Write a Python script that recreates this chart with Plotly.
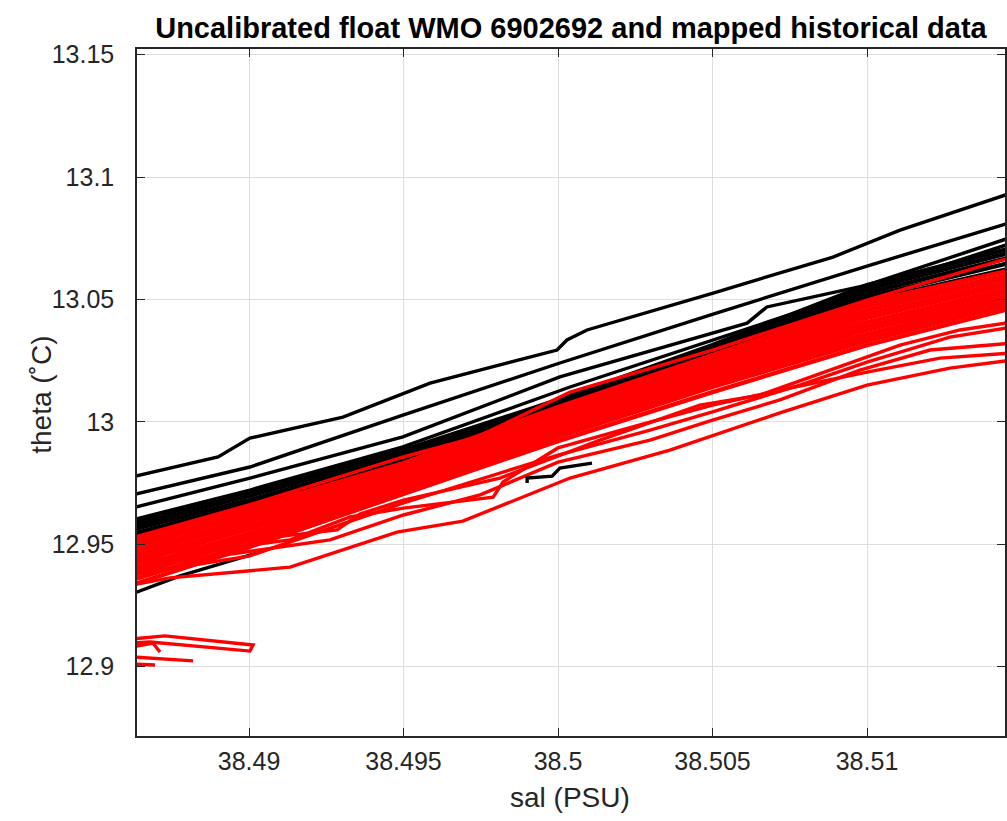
import plotly.graph_objects as go

# ---------------- axis ticks ----------------
x_tick_vals = [38.49, 38.495, 38.5, 38.505, 38.51]
x_tick_text = ["38.49", "38.495", "38.5", "38.505", "38.51"]
y_tick_vals = [12.9, 12.95, 13.0, 13.05, 13.1, 13.15]
y_tick_text = ["12.9", "12.95", "13", "13.05", "13.1", "13.15"]
x_range = [38.486375, 38.514466]
y_range = [12.8716, 13.1523]

# ---------------- mapped historical data (black) ----------------
hist1_sal = [38.4862, 38.48900, 38.49003, 38.49304, 38.49586, 38.49997, 38.50029, 38.50094, 38.50502, 38.50890, 38.51107, 38.5147]
hist1_theta = [12.9774, 12.9856, 12.9933, 13.0019, 13.0158, 13.0293, 13.0334, 13.0375, 13.0526, 13.0673, 13.0783, 13.0936]
hist2_sal = [38.4862, 38.49003, 38.49498, 38.50006, 38.50502, 38.51, 38.5147]
hist2_theta = [12.9701, 12.9815, 13.0027, 13.0240, 13.0440, 13.0636, 13.0816]
hist3_sal = [38.4862, 38.49003, 38.49498, 38.50006, 38.50612, 38.50676, 38.51, 38.5147]
hist3_theta = [12.9647, 12.9770, 12.9938, 13.0183, 13.0403, 13.0469, 13.0558, 13.0755]
hist4_sal = [38.4862, 38.49003, 38.49498, 38.50039, 38.50718, 38.5147]
hist4_theta = [12.9598, 12.9721, 12.9897, 13.0142, 13.0424, 13.0730]

band_sal = [38.4862, 38.49, 38.495, 38.5, 38.505, 38.51, 38.5147]
hist_band_theta = [
    [12.9590, 12.9713, 12.9884, 13.0089, 13.0313, 13.0558, 13.0710],
    [12.9574, 12.9697, 12.9872, 13.0076, 13.0297, 13.0542, 13.0693],
    [12.9558, 12.9680, 12.9856, 13.0064, 13.0281, 13.0526, 13.0673],
    [12.9541, 12.9664, 12.9839, 13.0052, 13.0264, 13.0509, 13.0652],
    [12.9525, 12.9647, 12.9823, 13.0040, 13.0248, 13.0493, 13.0628],
]
hist_low_sal = [38.4862, 38.48777, 38.49036]
hist_low_theta = [12.9296, 12.9370, 12.9468]
hist_step_sal = [38.49900, 38.49900, 38.49981, 38.50006, 38.50110]
hist_step_theta = [12.9750, 12.9770, 12.9778, 12.9811, 12.9831]

# ---------------- uncalibrated float data (red) ----------------
float_core_theta = [
    [12.9517, 12.9647, 12.9831, 13.0060, 13.0272, 13.0489, 13.0620],
    [12.9500, 12.9631, 12.9819, 13.0048, 13.0260, 13.0473, 13.0603],
    [12.9484, 12.9619, 12.9807, 13.0036, 13.0248, 13.0456, 13.0591],
    [12.9468, 12.9603, 12.9795, 13.0023, 13.0236, 13.0440, 13.0575],
    [12.9451, 12.9590, 12.9782, 13.0011, 13.0223, 13.0424, 13.0563],
    [12.9435, 12.9574, 12.9770, 12.9999, 13.0211, 13.0407, 13.0546],
    [12.9419, 12.9562, 12.9758, 12.9987, 13.0199, 13.0391, 13.0534],
    [12.9402, 12.9545, 12.9745, 12.9974, 13.0187, 13.0375, 13.0518],
    [12.9386, 12.9533, 12.9733, 12.9962, 13.0174, 13.0358, 13.0505],
    [12.9370, 12.9517, 12.9721, 12.9950, 13.0158, 13.0342, 13.0493],
    [12.9353, 12.9500, 12.9713, 12.9938, 13.0142, 13.0330, 13.0481],
    [12.9333, 12.9488, 12.9705, 12.9921, 13.0121, 13.0313, 13.0464],
]
float_top_sal = [38.4862, 38.49, 38.495, 38.49738, 38.50039, 38.505, 38.51, 38.5147]
float_top_theta = [12.9525, 12.9660, 12.9856, 12.9938, 13.0121, 13.0293, 13.0497, 13.0673]
float_a_sal = [38.4862, 38.48744, 38.49133, 38.49230, 38.49479, 38.49692, 38.49780, 38.50039, 38.50362, 38.50718, 38.51, 38.51268, 38.5147]
float_a_theta = [12.9333, 12.9362, 12.9406, 12.9447, 12.9549, 12.9594, 12.9639, 12.9770, 12.9884, 13.0036, 13.0150, 13.0219, 13.0252]
float_b_sal = [38.4862, 38.49, 38.495, 38.5, 38.50298, 38.505, 38.50783, 38.51, 38.51268, 38.5147]
float_b_theta = [12.9374, 12.9451, 12.9668, 12.9864, 12.9966, 13.0040, 13.0150, 13.0244, 13.0346, 13.0387]
float_c_sal = [38.4862, 38.49, 38.49262, 38.495, 38.49748, 38.5, 38.50298, 38.505, 38.50718, 38.50977, 38.51204, 38.5147]
float_c_theta = [12.9402, 12.9468, 12.9517, 12.9619, 12.9701, 12.9835, 12.9925, 13.0007, 13.0089, 13.0211, 13.0293, 13.0321]
float_d_sal = [38.4862, 38.49, 38.49133, 38.49327, 38.495, 38.49790, 38.49822, 38.5, 38.50265, 38.505, 38.50751, 38.51, 38.51236, 38.5147]
float_d_theta = [12.9423, 12.9496, 12.9517, 12.9611, 12.9647, 12.9692, 12.9754, 12.9893, 12.9987, 13.0068, 13.0138, 13.0203, 13.0260, 13.0281]
float_e_sal = [38.4862, 38.49, 38.49285, 38.49359, 38.495, 38.49812, 38.50136, 38.50459, 38.50654, 38.50880, 38.51107, 38.51301, 38.5147]
float_e_theta = [12.9443, 12.9517, 12.9558, 12.9623, 12.9680, 12.9770, 12.9925, 13.0068, 13.0109, 13.0211, 13.0313, 13.0375, 13.0407]
float_ll1_sal = [38.4862, 38.48728, 38.49013, 38.49003, 38.48890, 38.48680, 38.4862]
float_ll1_theta = [12.9112, 12.9125, 12.9088, 12.9063, 12.9076, 12.9100, 12.9096]
float_ll2_sal = [38.4862, 38.48689, 38.48712]
float_ll2_theta = [12.9080, 12.9096, 12.9059]
float_ll3_sal = [38.4862, 38.48819]
float_ll3_theta = [12.9039, 12.9023]
float_ll4_sal = [38.4862, 38.48696]
float_ll4_theta = [12.9010, 12.9006]

BLACK = "#000000"
RED = "#ff0000"
LW = 3.4
LW_DENSE = 4.4

fig = go.Figure()

def add(xs, ys, color, w=LW):
    fig.add_trace(go.Scatter(x=xs, y=ys, mode="lines",
                             line=dict(color=color, width=w),
                             showlegend=False, hoverinfo="skip"))

# historical (black) first
add(hist_low_sal, hist_low_theta, BLACK)
for th in hist_band_theta:
    add(band_sal, th, BLACK, LW_DENSE)
add(hist4_sal, hist4_theta, BLACK)
add(hist3_sal, hist3_theta, BLACK)
add(hist2_sal, hist2_theta, BLACK)
add(hist1_sal, hist1_theta, BLACK)

# float (red)
for th in float_core_theta:
    add(band_sal, th, RED, LW_DENSE)
add(float_top_sal, float_top_theta, RED)
add(float_a_sal, float_a_theta, RED)
add(float_b_sal, float_b_theta, RED)
add(float_c_sal, float_c_theta, RED)
add(float_d_sal, float_d_theta, RED)
add(float_e_sal, float_e_theta, RED)
add(float_ll1_sal, float_ll1_theta, RED)
add(float_ll2_sal, float_ll2_theta, RED)
add(float_ll3_sal, float_ll3_theta, RED)
add(float_ll4_sal, float_ll4_theta, RED)

# short black segment drawn on top
add(hist_step_sal, hist_step_theta, BLACK)

FONT = "Liberation Sans, Arial, Helvetica, sans-serif"
AX = "#262626"
GRID = "#dedede"

fig.update_layout(
    width=1007, height=821,
    margin=dict(l=137, r=2, t=49, b=85, autoexpand=False),
    paper_bgcolor="white", plot_bgcolor="white",
    font=dict(family=FONT, color=AX),
    title=dict(text="<b>Uncalibrated float WMO 6902692 and mapped historical data</b>",
               x=0.567, xref="container", xanchor="center",
               y=0.966, yref="container", yanchor="middle",
               font=dict(family=FONT, size=29, color="#000000")),
    annotations=[
        dict(text="sal (PSU)", xref="paper", yref="paper", x=0.499, y=-0.0888,
             xanchor="center", yanchor="middle", showarrow=False,
             font=dict(family=FONT, size=28, color=AX)),
        dict(text="theta (˚C)", xref="paper", yref="paper", x=-0.11, y=0.496,
             xanchor="center", yanchor="middle", showarrow=False, textangle=-90,
             font=dict(family=FONT, size=28, color=AX)),
    ],
)
fig.update_xaxes(
    range=x_range, tickvals=x_tick_vals, ticktext=x_tick_text,
    automargin=False,
    showgrid=True, gridcolor=GRID, gridwidth=1, zeroline=False,
    showline=True, linecolor=AX, linewidth=1.5, mirror="ticks",
    ticks="inside", ticklen=8, tickcolor=AX, tickwidth=1.2,
    tickfont=dict(size=25, color=AX),
    ticklabelstandoff=2,
)
fig.update_yaxes(
    range=y_range, tickvals=y_tick_vals, ticktext=y_tick_text,
    automargin=False,
    showgrid=True, gridcolor=GRID, gridwidth=1, zeroline=False,
    showline=True, linecolor=AX, linewidth=1.5, mirror="ticks",
    ticks="inside", ticklen=8, tickcolor=AX, tickwidth=1.2,
    tickfont=dict(size=25, color=AX),
    ticklabelstandoff=16,
)

fig.write_html("out.html", config={"displayModeBar": False},
               post_script="document.body.style.margin='0';document.body.style.overflow='hidden';")
